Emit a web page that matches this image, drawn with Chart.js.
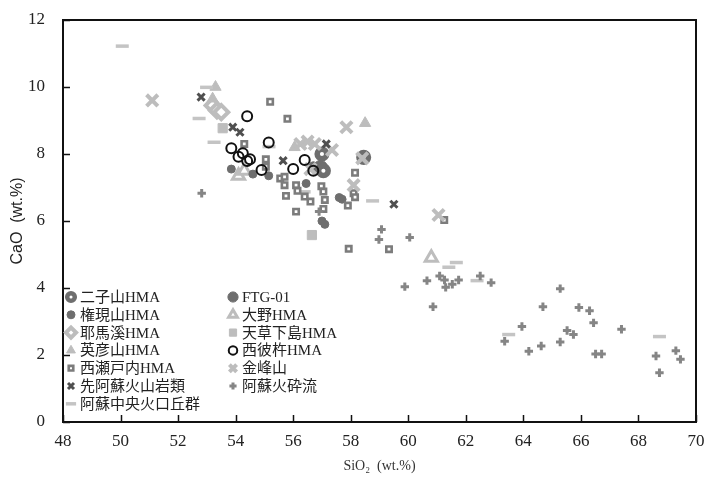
<!DOCTYPE html>
<html>
<head>
<meta charset="utf-8">
<script src="https://cdn.jsdelivr.net/npm/chart.js@4.4.1/dist/chart.umd.min.js"></script>
<style>
  html, body { margin: 0; padding: 0; background: #ffffff; }
  #wrap { width: 708px; height: 480px; }
</style>
</head>
<body>
<div id="wrap"><canvas id="c" width="708" height="480"></canvas></div>
<script>
// SiO2 (wt.%) vs CaO (wt.%) for each rock group: [SiO2, CaO]
const futagoyamaHMA = [[57.0, 8.0], [58.45, 7.9], [57.05, 7.5]];
const ftg01 = [[56.95, 7.6]];
const gongenyamaHMA = [[53.85, 7.55], [54.6, 7.4], [55.15, 7.35], [56.45, 7.12], [57.0, 6.0], [57.1, 5.9], [57.6, 6.7], [57.7, 6.65], [56.7, 7.65]];
const yabakeiHMA = [[53.2, 9.45], [53.35, 9.3], [53.5, 9.25]];
const hikosanHMA = [[53.3, 10.0], [53.2, 9.65], [56.05, 8.2], [58.5, 8.92]];
const onoHMA = [[54.1, 7.35], [54.3, 7.5], [60.8, 4.9]];
const amakusaHMA = [[53.55, 8.77], [56.65, 5.58]];
const nishisonogiHMA = [[54.4, 9.13], [53.85, 8.17], [54.1, 7.92], [54.25, 8.02], [54.4, 7.79], [54.5, 7.84], [54.9, 7.52], [55.15, 8.34], [56.0, 7.55], [56.4, 7.82], [56.7, 7.5]];
const setouchiHMA = [[55.2, 9.56], [55.8, 9.05], [54.3, 8.3], [55.05, 7.84], [55.05, 7.62], [55.55, 7.27], [55.7, 7.32], [55.7, 7.07], [55.75, 6.75], [56.1, 7.07], [56.15, 6.9], [56.1, 6.28], [56.4, 6.73], [56.6, 6.58], [56.98, 7.04], [57.05, 6.88], [57.1, 6.63], [57.05, 6.36], [57.9, 6.46], [58.1, 6.83], [58.15, 6.71], [58.15, 7.44], [57.93, 5.17], [59.33, 5.16], [61.25, 6.03]];
const kinpozan = [[51.1, 9.6], [57.85, 8.8], [56.25, 8.3], [56.5, 8.37], [56.75, 8.3], [57.35, 8.12], [56.6, 7.55], [58.4, 7.87], [58.1, 7.07], [61.05, 6.18]];
const preAsoVolcanics = [[52.8, 9.7], [53.9, 8.8], [54.15, 8.65], [55.65, 7.8], [57.15, 8.3], [59.5, 6.5]];
const asoPyroclasticFlow = [[52.82, 6.83], [56.9, 6.28], [59.07, 5.75], [58.98, 5.45], [60.05, 5.51], [59.88, 4.04], [60.65, 4.22], [60.86, 3.44], [61.09, 4.36], [61.26, 4.24], [61.3, 4.02], [61.53, 4.11], [61.75, 4.24], [62.5, 4.36], [62.88, 4.16], [63.35, 2.41], [63.95, 2.85], [64.19, 2.11], [64.62, 2.27], [64.68, 3.44], [65.28, 3.98], [65.28, 2.39], [65.52, 2.73], [65.74, 2.61], [65.93, 3.42], [66.3, 3.32], [66.44, 2.96], [66.51, 2.03], [66.72, 2.03], [67.41, 2.77], [68.61, 1.97], [68.73, 1.47], [69.3, 2.13], [69.46, 1.87]];
const asoCentralCones = [[50.06, 11.22], [52.99, 9.99], [52.73, 9.06], [53.25, 8.35], [55.16, 8.22], [56.38, 6.87], [58.76, 6.6], [61.67, 4.76], [61.41, 4.62], [62.39, 4.22], [63.49, 2.61], [68.73, 2.55]];

const xTicks = [48, 50, 52, 54, 56, 58, 60, 62, 64, 66, 68, 70];
const yTicks = [0, 2, 4, 6, 8, 10, 12];

const DARK = '#6e6e6e';
const MID = '#7c7c7c';
const LIGHT = '#bdbdbd';

const pts = arr => arr.map(p => ({ x: p[0], y: p[1] }));

function series(label, data, style) {
  return Object.assign({
    label: label,
    data: pts(data),
    showLine: false,
    pointHoverRadius: style.pointRadius
  }, style);
}

const S = {
  futago: series('二子山HMA', futagoyamaHMA, { pointStyle: 'circle', pointRadius: 4.8, pointBackgroundColor: '#ffffff', pointBorderColor: DARK, pointBorderWidth: 5.5 }),
  ftg: series('FTG-01', ftg01, { pointStyle: 'circle', pointRadius: 7, pointBackgroundColor: DARK, pointBorderColor: DARK, pointBorderWidth: 1 }),
  gongen: series('権現山HMA', gongenyamaHMA, { pointStyle: 'circle', pointRadius: 4, pointBackgroundColor: DARK, pointBorderColor: DARK, pointBorderWidth: 1 }),
  ono: series('大野HMA', onoHMA, { pointStyle: 'triangle', pointRadius: 7, pointBackgroundColor: '#ffffff', pointBorderColor: LIGHT, pointBorderWidth: 3 }),
  yaba: series('耶馬溪HMA', yabakeiHMA, { pointStyle: 'rectRot', pointRadius: 7, pointBackgroundColor: '#ffffff', pointBorderColor: LIGHT, pointBorderWidth: 4 }),
  amakusa: series('天草下島HMA', amakusaHMA, { pointStyle: 'rect', pointRadius: 6.5, pointBackgroundColor: LIGHT, pointBorderColor: LIGHT, pointBorderWidth: 1 }),
  hiko: series('英彦山HMA', hikosanHMA, { pointStyle: 'triangle', pointRadius: 6.5, pointBackgroundColor: LIGHT, pointBorderColor: LIGHT, pointBorderWidth: 1 }),
  nishi: series('西彼杵HMA', nishisonogiHMA, { pointStyle: 'circle', pointRadius: 5, pointBackgroundColor: 'rgba(255,255,255,0)', pointBorderColor: '#111111', pointBorderWidth: 2 }),
  setouchi: series('西瀬戸内HMA', setouchiHMA, { pointStyle: 'rect', pointRadius: 3.8, pointBackgroundColor: '#ffffff', pointBorderColor: MID, pointBorderWidth: 2.6 }),
  kinpo: series('金峰山', kinpozan, { pointStyle: 'crossRot', pointRadius: 8, pointBackgroundColor: LIGHT, pointBorderColor: LIGHT, pointBorderWidth: 4 }),
  preAso: series('先阿蘇火山岩類', preAsoVolcanics, { pointStyle: 'crossRot', pointRadius: 5, pointBackgroundColor: '#4f4f4f', pointBorderColor: '#4f4f4f', pointBorderWidth: 3 }),
  asoFlow: series('阿蘇火砕流', asoPyroclasticFlow, { pointStyle: 'cross', pointRadius: 4.2, pointBackgroundColor: '#858585', pointBorderColor: '#858585', pointBorderWidth: 3 }),
  asoCones: series('阿蘇中央火口丘群', asoCentralCones, { pointStyle: 'line', pointRadius: 6.5, pointBackgroundColor: '#c4c4c4', pointBorderColor: '#c4c4c4', pointBorderWidth: 3.5 })
};

// first dataset is painted last (on top)
const drawOrder = [S.nishi, S.preAso, S.asoFlow, S.kinpo, S.setouchi, S.asoCones, S.gongen, S.hiko, S.ono, S.yaba, S.amakusa, S.futago, S.ftg];

// two-column key, row by row
const keyRows = [
  [S.futago, S.ftg],
  [S.gongen, S.ono],
  [S.yaba, S.amakusa],
  [S.hiko, S.nishi],
  [S.setouchi, S.kinpo],
  [S.preAso, S.asoFlow],
  [S.asoCones, null]
];

const SERIF = "'Liberation Serif', 'DejaVu Serif', 'Noto Sans CJK JP', serif";
const KEY_FONT = "15px 'Liberation Serif', 'Noto Sans CJK JP', serif";

const frameAndKey = {
  id: 'frameAndKey',
  afterDraw(chart) {
    const ctx = chart.ctx;
    const a = chart.chartArea;
    const xs = chart.scales.x, ys = chart.scales.y;
    ctx.save();
    // frame
    ctx.strokeStyle = '#111111';
    ctx.lineWidth = 2;
    ctx.strokeRect(a.left, a.top, a.right - a.left, a.bottom - a.top);
    // inward tick marks
    ctx.lineWidth = 1.5;
    ctx.beginPath();
    xTicks.forEach(v => {
      const px = Math.round(xs.getPixelForValue(v)) + 0.5;
      ctx.moveTo(px, a.bottom);
      ctx.lineTo(px, a.bottom - 7);
    });
    yTicks.forEach(v => {
      const py = Math.round(ys.getPixelForValue(v)) + 0.5;
      ctx.moveTo(a.left, py);
      ctx.lineTo(a.left + 7, py);
    });
    ctx.stroke();

    // key
    const colX = [a.left + 8, a.left + 170];
    const rowY0 = ys.getPixelForValue(0) - 125;
    const rowH = 17.8;
    ctx.font = KEY_FONT;
    ctx.textBaseline = 'middle';
    ctx.textAlign = 'left';
    keyRows.forEach((row, r) => {
      row.forEach((ds, c) => {
        if (!ds) return;
        const cx = colX[c];
        const cy = rowY0 + r * rowH;
        ctx.save();
        ctx.fillStyle = ds.pointBackgroundColor;
        ctx.strokeStyle = ds.pointBorderColor;
        let radius = Math.min(ds.pointRadius, 6) * 0.85;
        let bw = ds.pointBorderWidth;
        if (ds === S.futago) { radius = 3.8; bw = 4.5; }
        if (ds === S.gongen) radius = ds.pointRadius;
        ctx.lineWidth = bw;
        Chart.helpers.drawPoint(ctx, {
          pointStyle: ds.pointStyle,
          radius: radius,
          rotation: 0,
          borderWidth: bw
        }, cx, cy);
        ctx.restore();
        ctx.fillStyle = '#222222';
        ctx.fillText(ds.label, cx + 9, cy + 1);
      });
    });
    ctx.restore();
  }
};

new Chart(document.getElementById('c'), {
  type: 'scatter',
  data: { datasets: drawOrder },
  options: {
    responsive: false,
    animation: false,
    devicePixelRatio: 1,
    layout: { padding: { top: 20, right: 11, left: 0, bottom: 0 } },
    plugins: { legend: { display: false }, tooltip: { enabled: false } },
    scales: {
      x: {
        type: 'linear',
        min: 48, max: 70,
        afterBuildTicks: s => { s.ticks = xTicks.map(v => ({ value: v })); },
        afterFit: s => { s.height = 58; s.paddingRight = 0; s.paddingLeft = 0; },
        grid: { display: false, drawTicks: false },
        border: { display: false },
        ticks: { color: '#222222', font: { family: SERIF, size: 17 }, padding: 9, maxRotation: 0 },
        title: { display: true, text: 'SiO₂  (wt.%)', color: '#333333', font: { family: SERIF, size: 14 }, padding: { top: 0, bottom: 5 } }
      },
      y: {
        type: 'linear',
        min: 0, max: 12,
        afterBuildTicks: s => { s.ticks = yTicks.map(v => ({ value: v })); },
        afterFit: s => { s.width = 63; s.paddingTop = 0; s.paddingBottom = 0; },
        grid: { display: false, drawTicks: false },
        border: { display: false },
        ticks: { color: '#222222', font: { family: SERIF, size: 17 }, padding: 18 },
        title: { display: true, text: 'CaO  (wt.%)', color: '#222222', font: { family: "'Liberation Sans', Arial, sans-serif", size: 16 }, padding: { top: 8, bottom: 0 } }
      }
    }
  },
  plugins: [frameAndKey]
});
</script>
</body>
</html>
